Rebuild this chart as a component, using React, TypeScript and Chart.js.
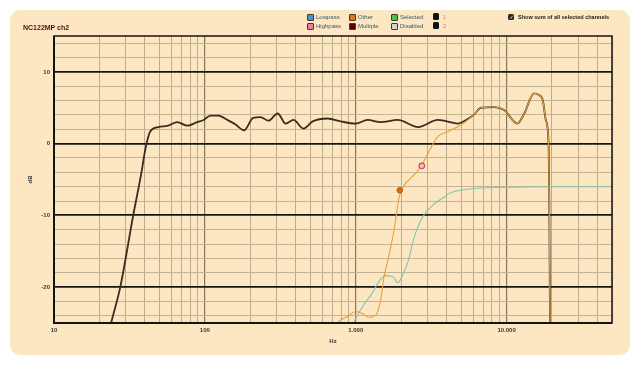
import React, { useEffect, useRef } from "react";
import { Chart, registerables } from "chart.js";

Chart.register(...registerables);

// ---------- data ----------
const DARK_FREQ = [20, 23.9, 27.5, 33.5, 38, 40.3, 43.4, 49.2, 57, 65.6, 76.5, 89, 98, 109, 123, 141, 159, 182, 209, 234, 264, 304, 343, 387, 450, 519, 651, 795, 1000, 1200, 1466, 1900, 2592, 3509, 4755, 5500, 6070, 6760, 8270, 9640, 11800, 13100, 15200, 16300, 17400, 18200, 19000, 19200, 19500];
const DARK_DB = [-32, -25, -20, -10, -4, -0.8, 1.7, 2.3, 2.5, 3.0, 2.5, 3.0, 3.3, 3.9, 3.9, 3.3, 2.7, 1.85, 3.6, 3.7, 3.2, 4.2, 2.8, 3.3, 2.1, 3.1, 3.5, 3.1, 2.8, 3.3, 3.0, 3.3, 2.3, 3.3, 2.8, 3.4, 4.0, 5.0, 5.1, 4.7, 2.8, 4.2, 7.0, 6.8, 6.0, 3.3, 0, -8, -32];

const ORANGE_FREQ = [700, 759, 886, 1000, 1110, 1220, 1360, 1466, 1530, 1640, 1800, 1940, 2080, 2320, 2620, 2800, 3150, 3510, 4090, 4990, 6070, 6760, 8270, 9640, 11800, 13100, 15200, 16300, 17400, 18200, 19000, 19200, 19500];
const ORANGE_DB = [-27, -25, -24.1, -23.4, -23.7, -24.2, -23.9, -21.7, -18.9, -16.1, -11.9, -7.5, -5.9, -4.8, -3.6, -2.6, -0.6, 1.0, 1.7, 2.6, 4.0, 5.0, 5.1, 4.7, 2.8, 4.2, 7.0, 6.8, 6.0, 3.3, 0, -8, -32];

const TEAL_FREQ = [900, 970, 1120, 1300, 1414, 1580, 1770, 1900, 2040, 2250, 2420, 2800, 3280, 3820, 4250, 5800, 9200, 20000, 50000];
const TEAL_DB = [-27, -25, -22.6, -20.7, -19.3, -18.4, -18.6, -19.4, -18.4, -16.1, -13.3, -10.1, -8.5, -7.5, -6.85, -6.3, -6.1, -6.0, -6.0];

const MARKER_ORANGE = { f: 1960, db: -6.5 };
const MARKER_PINK = { f: 2743, db: -3.1 };

const X_TICKS = [10, 20, 30, 40, 50, 60, 70, 80, 90, 100, 200, 300, 400, 500, 600, 700, 800, 900, 1000, 2000, 3000, 4000, 5000, 6000, 7000, 8000, 9000, 10000, 20000, 30000, 40000, 50000];
const Y_TICKS = [-24, -22, -20, -18, -16, -14, -12, -10, -8, -6, -4, -2, 0, 2, 4, 6, 8, 10, 12, 14];

const LEGEND_LEFT = [
  { label: "Lowpass", color: "#4d8fd6" },
  { label: "Highpass", color: "#ef7d97" },
];
const LEGEND_MID = [
  { label: "Other", color: "#e27a14" },
  { label: "Multiple", color: "#5a0606" },
];
const LEGEND_RIGHT = [
  { label: "Selected", color: "#46c44a" },
  { label: "Disabled", color: "#d4d4d4" },
];
const CHANNELS = ["1", "2"];

const PANEL = "#fde6c2";
const isPow10 = (v: number) => Math.abs(Math.log10(v) - Math.round(Math.log10(v))) < 1e-9;
const fmt = (v: number) => String(v).replace(/\B(?=(\d{3})+(?!\d))/g, ".");

const zip = (fs: number[], ds: number[]) => fs.map((f, i) => ({ x: f, y: ds[i] }));

export default function App() {
  const ref = useRef<HTMLCanvasElement>(null);

  useEffect(() => {
    if (!ref.current) return;
    const frame = {
      id: "frame",
      afterDatasetsDraw(chart: any) {
        const { ctx, chartArea: a } = chart;
        ctx.save();
        ctx.strokeStyle = "#141414";
        ctx.lineWidth = 1.5;
        ctx.strokeRect(a.left, a.top, a.right - a.left, a.bottom - a.top);
        ctx.lineWidth = 2;
        ctx.beginPath();
        ctx.moveTo(a.left, a.top);
        ctx.lineTo(a.left, a.bottom);
        ctx.lineTo(a.right, a.bottom);
        ctx.stroke();
        ctx.restore();
      },
    };
    const tickFont = { family: "Liberation Sans", size: 6, weight: "bold" as const };
    const chart = new Chart(ref.current, {
      type: "line",
      data: {
        datasets: [
          {
            data: zip(DARK_FREQ, DARK_DB),
            borderColor: "#3a2d1f",
            borderWidth: 1.8,
            pointRadius: 0,
            cubicInterpolationMode: "monotone",
            order: 3,
          },
          {
            data: zip(TEAL_FREQ, TEAL_DB),
            borderColor: "#80c4b2",
            borderWidth: 1.1,
            pointRadius: 0,
            cubicInterpolationMode: "monotone",
            order: 2,
          },
          {
            data: zip(ORANGE_FREQ, ORANGE_DB),
            borderColor: "#e6a23e",
            borderWidth: 1.1,
            pointRadius: 0,
            cubicInterpolationMode: "monotone",
            order: 1,
          },
          {
            data: [{ x: MARKER_ORANGE.f, y: MARKER_ORANGE.db }],
            showLine: false,
            pointRadius: 2.8,
            pointBackgroundColor: "#d66a12",
            pointBorderColor: "#c45c08",
            pointBorderWidth: 1,
            order: 0,
          },
          {
            data: [{ x: MARKER_PINK.f, y: MARKER_PINK.db }],
            showLine: false,
            pointRadius: 2.8,
            pointBackgroundColor: "#f5c0bc",
            pointBorderColor: "#d24a62",
            pointBorderWidth: 1.2,
            order: 0,
          },
        ],
      },
      options: {
        animation: false,
        responsive: false,
        events: [],
        layout: { padding: { left: 10, right: 28, top: 36, bottom: 10 } },
        plugins: { legend: { display: false }, tooltip: { enabled: false } },
        scales: {
          x: {
            type: "logarithmic",
            min: 10,
            max: 50000,
            afterBuildTicks: (s: any) => {
              s.ticks = X_TICKS.map((v) => ({ value: v }));
            },
            afterFit: (s: any) => {
              s.height = 34;
            },
            border: { display: false },
            grid: {
              drawTicks: false,
              color: (c: any) => (c.tick && isPow10(c.tick.value) ? "#86775f" : "#b4a486"),
              lineWidth: (c: any) => (c.tick && isPow10(c.tick.value) ? 1.2 : 0.9),
            },
            ticks: {
              autoSkip: false,
              maxRotation: 0,
              padding: 4,
              color: "#383838",
              font: tickFont,
              callback: (v: any) => (isPow10(Number(v)) ? fmt(Number(v)) : ""),
            },
            title: {
              display: true,
              text: "Hz",
              color: "#383838",
              font: tickFont,
              padding: { top: 0, bottom: 11.8 },
            },
          },
          y: {
            type: "linear",
            min: -25,
            max: 15,
            afterBuildTicks: (s: any) => {
              s.ticks = Y_TICKS.map((v) => ({ value: v }));
            },
            afterFit: (s: any) => {
              s.width = 44;
            },
            border: { display: false },
            grid: {
              drawTicks: false,
              color: (c: any) => (c.tick && c.tick.value % 10 === 0 ? "#161616" : "#c4b496"),
              lineWidth: (c: any) => (c.tick && c.tick.value % 10 === 0 ? 1.8 : 1),
            },
            ticks: {
              autoSkip: false,
              padding: 4,
              color: "#383838",
              font: tickFont,
              callback: (v: any) => (Number(v) % 10 === 0 ? String(v) : ""),
            },
            title: {
              display: true,
              text: "dB",
              color: "#383838",
              font: tickFont,
              padding: { top: 16.8, bottom: 0 },
            },
          },
        },
      },
      plugins: [frame],
    } as any);
    return () => chart.destroy();
  }, []);

  const legendText: React.CSSProperties = {
    position: "absolute",
    fontFamily: "Liberation Sans",
    fontSize: 6,
    color: "#3c5670",
    lineHeight: "8px",
    whiteSpace: "nowrap",
  };
  const sq = (left: number, top: number, color: string, key: string) => (
    <div
      key={key}
      style={{
        position: "absolute",
        left,
        top,
        width: 5,
        height: 5,
        background: color,
        border: "1px solid #3a3a3a",
        borderRadius: 1,
      }}
    />
  );
  const group = (items: { label: string; color: string }[], x: number) =>
    items.map((it, i) => (
      <React.Fragment key={it.label}>
        {sq(x, 14 + i * 9, it.color, it.label + "sq")}
        <div style={{ ...legendText, left: x + 9, top: 13 + i * 9 }}>{it.label}</div>
      </React.Fragment>
    ));

  return (
    <div style={{ position: "absolute", left: 0, top: 0, width: 640, height: 367, background: "#fff", overflow: "hidden" }}>
      <div style={{ position: "absolute", left: 10, top: 10, width: 620, height: 345, background: PANEL, borderRadius: 10 }} />
      <canvas ref={ref} width={640} height={367} style={{ position: "absolute", left: 0, top: 0, width: 640, height: 367 }} />
      <div
        style={{
          position: "absolute",
          left: 23,
          top: 24,
          fontFamily: "Liberation Sans",
          fontWeight: "bold",
          fontSize: 7,
          color: "#561010",
          whiteSpace: "nowrap",
        }}
      >
        NC122MP ch2
      </div>
      {group(LEGEND_LEFT, 307)}
      {group(LEGEND_MID, 349)}
      {group(LEGEND_RIGHT, 391)}
      {CHANNELS.map((c, i) => (
        <React.Fragment key={c}>
          <div
            style={{
              position: "absolute",
              left: 433,
              top: 13 + i * 9,
              width: 6,
              height: 7,
              background: "#111",
              borderRadius: 1.5,
            }}
          />
          <div style={{ ...legendText, left: 443, top: 13 + i * 9, color: "#e0708a" }}>{c}</div>
        </React.Fragment>
      ))}
      <div
        style={{
          position: "absolute",
          left: 508,
          top: 14,
          width: 6,
          height: 6,
          background: "#2a2a2a",
          borderRadius: 1.5,
        }}
      />
      <div
        style={{
          position: "absolute",
          left: 509.5,
          top: 14,
          fontSize: 5,
          color: "#fff",
          fontFamily: "DejaVu Sans",
          lineHeight: "6px",
        }}
      >
        ✓
      </div>
      <div
        style={{
          position: "absolute",
          left: 518,
          top: 13,
          fontFamily: "Liberation Sans",
          fontWeight: "bold",
          fontSize: 6,
          lineHeight: "8px",
          color: "#1a1a1a",
          whiteSpace: "nowrap",
          transformOrigin: "left center",
          transform: "scaleX(0.92)",
        }}
      >
        Show sum of all selected channels
      </div>
    </div>
  );
}
